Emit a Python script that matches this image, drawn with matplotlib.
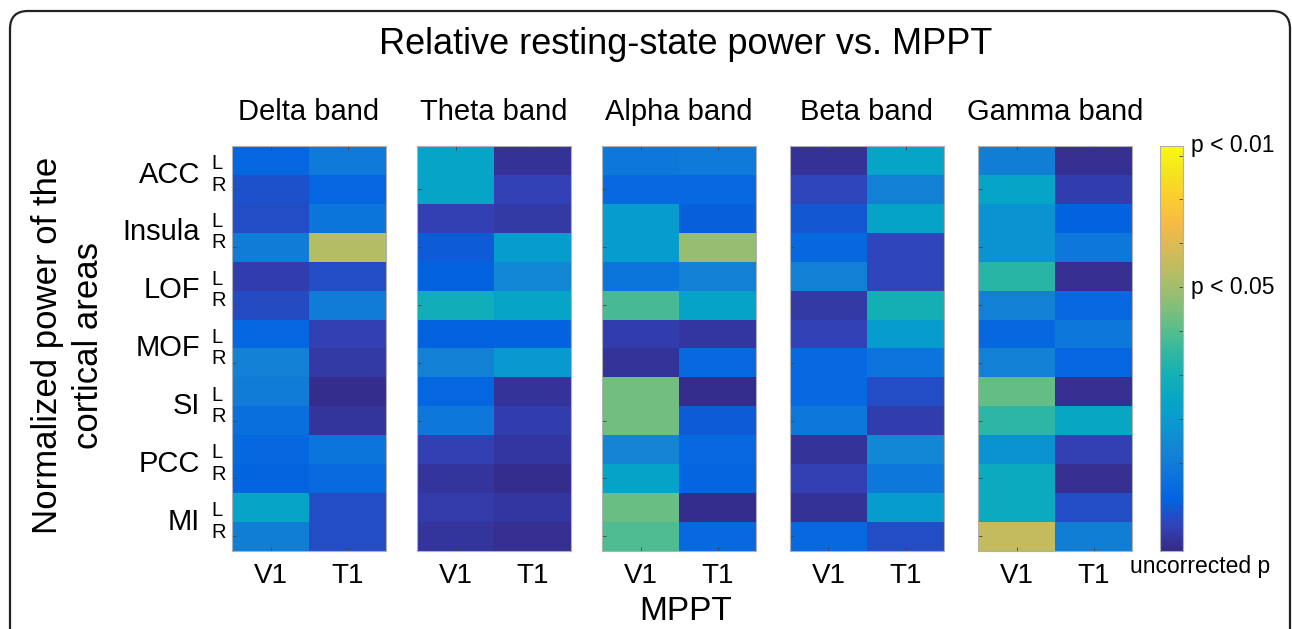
import numpy as np
import matplotlib.pyplot as plt
from matplotlib.colors import LinearSegmentedColormap
from matplotlib.patches import FancyBboxPatch

plt.rcParams['font.family'] = ['Liberation Sans', 'DejaVu Sans']

bands = ['Delta band', 'Theta band', 'Alpha band', 'Beta band', 'Gamma band']
areas = ['ACC', 'Insula', 'LOF', 'MOF', 'SI', 'PCC', 'MI']
sides = ['L', 'R']
visits = ['V1', 'T1']

# -log10(uncorrected p) per row: ACC L, ACC R, Insula L, Insula R, ... MI L, MI R
delta_v1 = [0.28, 0.18, 0.17, 0.44, 0.10, 0.16, 0.28, 0.48, 0.44, 0.34, 0.29, 0.26, 0.74, 0.46]
delta_t1 = [0.42, 0.28, 0.38, 1.36, 0.17, 0.44, 0.11, 0.08, 0.02, 0.06, 0.38, 0.31, 0.17, 0.17]
theta_v1 = [0.74, 0.74, 0.11, 0.22, 0.25, 0.84, 0.25, 0.47, 0.28, 0.40, 0.11, 0.06, 0.09, 0.06]
theta_t1 = [0.04, 0.12, 0.08, 0.66, 0.52, 0.74, 0.25, 0.64, 0.05, 0.10, 0.07, 0.02, 0.07, 0.03]
alpha_v1 = [0.40, 0.30, 0.66, 0.66, 0.38, 1.04, 0.10, 0.05, 1.16, 1.16, 0.50, 0.72, 1.14, 1.07]
alpha_t1 = [0.42, 0.30, 0.24, 1.26, 0.47, 0.72, 0.07, 0.30, 0.02, 0.22, 0.30, 0.27, 0.02, 0.30]
beta_v1 = [0.04, 0.14, 0.21, 0.29, 0.47, 0.08, 0.12, 0.30, 0.30, 0.40, 0.05, 0.11, 0.04, 0.30]
beta_t1 = [0.74, 0.48, 0.72, 0.14, 0.14, 0.86, 0.66, 0.37, 0.17, 0.10, 0.52, 0.40, 0.66, 0.17]
gamma_v1 = [0.46, 0.74, 0.60, 0.60, 0.95, 0.47, 0.29, 0.48, 1.12, 0.96, 0.60, 0.80, 0.80, 1.42]
gamma_t1 = [0.03, 0.10, 0.25, 0.40, 0.03, 0.30, 0.40, 0.28, 0.03, 0.76, 0.11, 0.03, 0.17, 0.46]

band_data = [
    (delta_v1, delta_t1),
    (theta_v1, theta_t1),
    (alpha_v1, alpha_t1),
    (beta_v1, beta_t1),
    (gamma_v1, gamma_t1),
]

# parula-like colormap
parula = LinearSegmentedColormap.from_list('parula', [
    (0.2081, 0.1663, 0.5292), (0.1959, 0.2645, 0.7279), (0.0117, 0.3875, 0.8820),
    (0.0498, 0.4586, 0.8641), (0.0793, 0.5200, 0.8312), (0.0343, 0.5966, 0.8199),
    (0.0228, 0.6535, 0.7768), (0.0843, 0.6928, 0.7062), (0.2178, 0.7250, 0.6193),
    (0.3953, 0.7459, 0.5244), (0.5709, 0.7485, 0.4494), (0.7184, 0.7411, 0.3905),
    (0.8507, 0.7299, 0.3360), (0.9739, 0.7314, 0.2666), (0.9880, 0.8066, 0.1794),
    (0.9589, 0.8949, 0.1132), (0.9763, 0.9831, 0.0538)])
vmax = 2.0  # p = 0.01

W, H = 1292, 629
fig = plt.figure(figsize=(W / 100, H / 100), dpi=100)

# rounded frame around the whole figure
frame = FancyBboxPatch((0.1, -1.0), 12.8, 7.18, boxstyle='round,pad=0,rounding_size=0.18',
                       transform=fig.dpi_scale_trans, fill=False, lw=1.6, ec='#222222')
fig.patches.append(frame)

ax_left = [232, 417, 602, 790, 978]
ax_w, ax_top, ax_bot = 154, 145.7, 550.7
n_rows = len(areas) * len(sides)

for i, (band, (v1, t1)) in enumerate(zip(bands, band_data)):
    ax = fig.add_axes([ax_left[i] / W, 1 - ax_bot / H, ax_w / W, (ax_bot - ax_top) / H])
    mat = np.column_stack([v1, t1])
    im = ax.imshow(mat, cmap=parula, vmin=0, vmax=vmax, aspect='auto', interpolation='nearest')
    ax.set_xticks(range(len(visits)))
    ax.set_xticklabels(visits, fontsize=20)
    ax.set_yticks(np.arange(1, n_rows, 2))
    ax.set_yticklabels([])
    ax.tick_params(direction='in', length=3, width=0.6, color='#444444', pad=9,
                   top=True, right=False)
    for s in ax.spines.values():
        s.set_color('#b0b0b0')
        s.set_linewidth(0.8)
    ax.text(0.5, 1 + 34 / (ax_bot - ax_top), band, transform=ax.transAxes,
            ha='center', va='center', fontsize=21)
    if i == 0:
        tr = ax.get_yaxis_transform()
        for k, area in enumerate(areas):
            ax.text(-0.208, 2 * k + 0.5, area, transform=tr, ha='right', va='center', fontsize=21)
            ax.text(-0.135, 2 * k + 0.12, sides[0], transform=tr, ha='left', va='center', fontsize=14.5)
            ax.text(-0.135, 2 * k + 0.86, sides[1], transform=tr, ha='left', va='center', fontsize=14.5)

# colorbar
cax = fig.add_axes([1160 / W, 1 - ax_bot / H, 23 / W, (ax_bot - ax_top) / H])
cb = fig.colorbar(im, cax=cax)
cb.outline.set_edgecolor('#b0b0b0')
cb.outline.set_linewidth(0.8)
p05 = -np.log10(0.05)
cb.set_ticks(np.arange(1, 10) * p05 / 6)
cax.tick_params(direction='in', length=3, width=0.6, color='#444444', labelright=False)
cax.text(1.35, 1.0, 'p < 0.01', transform=cax.transAxes, ha='left', va='center', fontsize=16.5)
cax.text(1.35, p05 / vmax, 'p < 0.05', transform=cax.transAxes, ha='left', va='center', fontsize=16.5)
fig.text(1200 / W, 1 - 566 / H, 'uncorrected p', ha='center', va='center', fontsize=16.5)

fig.text(686 / W, 1 - 45 / H, 'Relative resting-state power vs. MPPT', ha='center', va='center', fontsize=26)
fig.text(686 / W, 1 - 612 / H, 'MPPT', ha='center', va='center', fontsize=24)
fig.text(68 / W, 1 - 345 / H, 'Normalized power of the\ncortical areas', rotation=90,
         ha='center', va='center', fontsize=25, linespacing=1.3)

fig.savefig('out.png', dpi=100)
